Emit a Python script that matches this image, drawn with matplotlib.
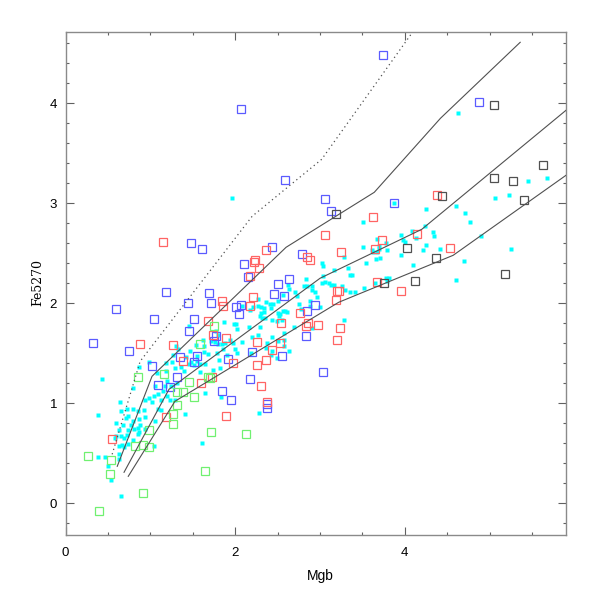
import matplotlib
matplotlib.use("Agg")
import matplotlib.pyplot as plt
import numpy as np
from matplotlib.ticker import MultipleLocator

# ---------------- data ----------------
cyan_x = [1.96, 3.51, 3.67, 3.51, 3.61, 3.63, 3.69, 3.70, 3.67, 3.78, 3.79, 3.71, 3.66, 3.54, 3.28,
          3.02, 3.04, 3.17, 3.33, 3.35, 3.38, 3.04, 2.84, 3.02, 3.06, 3.11, 3.13, 3.16, 3.26, 3.30,
          3.35, 3.41, 3.52, 2.90, 2.81, 2.85, 2.90, 2.94, 2.96, 2.71, 2.73, 2.64, 2.62, 2.56, 2.50,
          2.45, 2.41, 2.36, 2.42, 2.31, 2.27, 2.31, 2.34, 2.34, 2.29, 2.32, 2.35, 2.50, 2.52, 2.53,
          2.56, 2.59, 2.61, 2.55, 2.49, 2.43, 2.58, 2.69, 2.75, 2.78, 2.88, 2.88, 3.00, 2.90, 3.28,
          2.17, 2.08, 2.21, 2.27, 2.01, 1.99, 1.87, 2.02, 2.16, 2.29, 2.08, 2.27, 2.37, 2.43, 2.51,
          2.57, 2.58, 2.36, 1.76, 1.84, 1.63, 1.86, 1.98, 2.00, 1.94, 2.02, 2.64, 2.42, 2.49, 3.78,
          3.81, 3.65, 3.87, 2.20, 2.43, 2.19, 2.28,
          4.63, 5.45, 5.68, 5.06, 5.23, 4.25, 4.60, 4.71, 4.77, 4.24, 4.09, 3.96, 3.98, 4.00, 4.13,
          4.33, 4.34, 4.25, 4.22, 4.42, 4.90, 5.25, 3.96, 4.10, 4.70, 3.79, 4.60,
          1.45, 1.77, 1.80, 1.62, 1.71, 1.80, 1.88, 1.30, 1.33, 1.54, 1.47, 1.63, 1.55, 1.68, 1.79,
          1.27, 1.42, 1.48, 1.55, 1.59, 1.52, 1.45, 1.64, 1.81, 1.90, 0.98, 0.87, 1.19, 1.26, 1.36,
          1.29, 1.40, 1.19, 1.08, 1.59, 1.74, 1.82, 0.43, 0.79, 1.20, 1.31, 1.24, 1.17, 1.06, 1.15,
          1.09, 1.20, 1.23, 0.99, 1.04, 0.94, 1.02, 1.12, 1.29, 1.65, 1.83, 1.41, 0.64, 0.65, 0.80,
          0.73, 0.74, 0.86, 0.92, 1.09, 1.13, 0.94, 0.87, 0.79, 0.71, 0.68, 0.77, 0.88, 1.06, 0.81,
          0.74, 0.94, 0.59, 0.63, 0.72, 0.86, 0.60, 0.66, 0.69, 0.79, 1.04, 0.74, 0.67, 0.63, 1.61,
          0.38, 0.63, 0.63, 0.47, 0.38, 0.50, 0.54, 0.66, 0.58, 0.69, 0.86, 0.87]
cyan_y = [3.05, 2.81, 2.64, 2.56, 2.53, 2.51, 2.57, 2.54, 2.51, 2.60, 2.53, 2.45, 2.44, 2.40, 2.46,
          2.40, 2.37, 2.33, 2.35, 2.28, 2.28, 2.27, 2.24, 2.20, 2.21, 2.20, 2.18, 2.18, 2.17, 2.13,
          2.11, 2.11, 2.15, 2.17, 2.17, 2.17, 2.13, 2.11, 2.06, 2.11, 2.07, 2.14, 2.18, 2.08, 2.02,
          1.99, 1.99, 2.01, 1.95, 1.96, 2.04, 1.90, 1.91, 1.95, 1.87, 1.85, 1.85, 1.90, 1.87, 1.89,
          1.92, 1.92, 1.91, 1.83, 1.82, 1.83, 1.70, 1.76, 1.99, 1.94, 2.02, 1.97, 1.96, 1.75, 1.83,
          1.93, 1.97, 1.96, 1.97, 1.79, 1.79, 1.81, 1.74, 1.76, 1.76, 1.61, 1.68, 1.60, 1.66, 1.62,
          1.63, 1.57, 1.55, 1.61, 1.59, 1.57, 1.54, 1.60, 1.54, 1.63, 1.50, 1.52, 1.48, 1.45, 2.25,
          2.25, 2.20, 3.00, 1.66, 1.52, 1.50, 0.90,
          3.90, 3.22, 3.25, 3.05, 3.08, 2.94, 2.97, 2.90, 2.81, 2.77, 2.72, 2.68, 2.63, 2.61, 2.65,
          2.71, 2.67, 2.58, 2.53, 2.54, 2.67, 2.54, 2.48, 2.38, 2.42, 2.22, 2.23,
          1.77, 1.72, 1.68, 1.63, 1.62, 1.59, 1.60, 1.57, 1.54, 1.58, 1.52, 1.51, 1.47, 1.49, 1.50,
          1.48, 1.46, 1.41, 1.42, 1.39, 1.38, 1.39, 1.39, 1.43, 1.48, 1.41, 1.36, 1.40, 1.41, 1.36,
          1.35, 1.32, 1.32, 1.30, 1.31, 1.33, 1.35, 1.24, 1.15, 1.22, 1.20, 1.17, 1.17, 1.17, 1.12,
          1.09, 1.07, 1.03, 1.05, 1.07, 1.03, 1.01, 1.03, 1.03, 1.10, 1.06, 0.89, 1.01, 0.92, 0.94,
          0.94, 0.87, 0.92, 0.93, 0.94, 0.93, 0.86, 0.84, 0.82, 0.85, 0.78, 0.78, 0.78, 0.82, 0.74,
          0.73, 0.74, 0.80, 0.73, 0.68, 0.69, 0.67, 0.67, 0.65, 0.63, 0.57, 0.59, 0.58, 0.57, 0.60,
          0.88, 0.49, 0.44, 0.46, 0.46, 0.37, 0.23, 0.07, 0.65, 0.56, 0.75, 0.71]

blue_x = [3.74, 2.07, 2.59, 3.06, 3.13, 1.48, 1.61, 2.44, 2.10, 2.79, 2.15, 2.64, 1.18, 1.69, 1.44,
          1.72, 0.60, 1.04, 1.52, 1.45, 0.32, 0.75, 1.02, 1.35, 1.55, 1.52, 1.32, 1.09, 1.23, 1.85,
          1.95, 2.18, 2.20, 2.01, 2.07, 2.05, 1.78, 1.75, 1.92, 3.87, 2.50, 2.46, 2.58, 2.94, 2.85,
          2.84, 2.55, 4.87, 3.03, 2.38, 2.38]
blue_y = [4.48, 3.94, 3.23, 3.04, 2.92, 2.60, 2.54, 2.56, 2.39, 2.49, 2.26, 2.24, 2.11, 2.10, 2.00,
          2.00, 1.94, 1.84, 1.84, 1.72, 1.60, 1.52, 1.37, 1.46, 1.47, 1.41, 1.26, 1.18, 1.16, 1.12,
          1.03, 1.24, 1.51, 1.96, 1.98, 1.89, 1.67, 1.62, 1.44, 3.00, 2.19, 2.09, 2.07, 1.98, 1.92,
          1.67, 1.47, 4.01, 1.31, 0.99, 0.95]

red_x = [1.15, 3.62, 3.73, 3.65, 3.06, 3.25, 2.36, 2.23, 2.22, 2.28, 2.85, 2.88, 2.18, 0.88, 1.27,
         1.68, 1.85, 2.21, 2.18, 1.74, 1.89, 1.39, 1.73, 1.60, 1.97, 2.26, 2.26, 1.18, 1.89, 0.55,
         2.30, 1.86, 2.76, 2.98, 2.86, 2.84, 2.54, 3.20, 3.22, 3.19, 3.24, 3.20, 3.67, 3.96, 2.53,
         2.44, 2.36, 4.38, 4.14, 4.53, 2.38]
red_y = [2.61, 2.86, 2.63, 2.54, 2.68, 2.51, 2.53, 2.43, 2.41, 2.35, 2.46, 2.43, 2.27, 1.59, 1.58,
         1.82, 2.02, 2.06, 1.97, 1.68, 1.65, 1.42, 1.26, 1.20, 1.40, 1.61, 1.38, 0.86, 0.87, 0.64,
         1.17, 1.97, 1.90, 1.78, 1.80, 1.77, 1.80, 2.12, 2.12, 2.03, 1.75, 1.63, 2.21, 2.12, 1.60,
         1.53, 1.43, 3.08, 2.69, 2.55, 1.01]

green_x = [1.75, 1.59, 0.86, 1.16, 1.45, 1.68, 1.70, 1.32, 1.38, 1.51, 1.31, 1.27, 1.27, 0.99, 1.71,
           2.13, 0.82, 0.91, 0.99, 0.26, 0.54, 0.53, 1.65, 0.91, 0.40]
green_y = [1.77, 1.59, 1.26, 1.29, 1.21, 1.26, 1.25, 1.11, 1.11, 1.06, 0.98, 0.89, 0.79, 0.73, 0.71,
           0.69, 0.57, 0.58, 0.56, 0.47, 0.43, 0.29, 0.32, 0.10, -0.08]

black_x = [5.05, 5.63, 5.05, 5.27, 5.40, 4.44, 4.02, 4.37, 4.12, 3.76, 5.18, 3.19]
black_y = [3.98, 3.38, 3.25, 3.22, 3.03, 3.07, 2.55, 2.45, 2.22, 2.20, 2.29, 2.89]

line1_x = [0.61, 1.02, 2.60, 3.64, 4.42, 5.36]
line1_y = [0.37, 1.27, 2.56, 3.11, 3.85, 4.61]
line2_x = [0.69, 1.22, 3.00, 4.20, 5.90]
line2_y = [0.31, 1.14, 2.25, 2.74, 3.93]
line3_x = [0.74, 1.29, 3.22, 4.57, 5.90]
line3_y = [0.27, 1.02, 2.01, 2.48, 3.28]
dot_x = [0.55, 0.88, 2.20, 3.02, 4.09]
dot_y = [0.49, 1.42, 2.87, 3.44, 4.71]

x_ticks = [0, 2, 4]
y_ticks = [0, 1, 2, 3, 4]

# ---------------- figure ----------------
W = H = 598
fig = plt.figure(figsize=(W / 100, H / 100), dpi=100)
ax = fig.add_axes([65.5 / W, 1 - 535 / H, (566 - 65.5) / W, (535 - 32.3) / H])

ax.plot(cyan_x, cyan_y, linestyle='none', marker='s', ms=3.0, mfc='#00ffff', mec='none', zorder=2)

sq = dict(linestyle='none', marker='s', ms=6.0, mfc='none', mew=0.9, zorder=3)
ax.plot(blue_x, blue_y, mec='#5b5bff', **sq)
ax.plot(red_x, red_y, mec='#ff6464', **sq)
ax.plot(green_x, green_y, mec='#70f070', **sq)
ax.plot(black_x, black_y, mec='#505050', **sq)

lc = '#505050'
ax.plot(line1_x, line1_y, color=lc, lw=0.8, zorder=4)
ax.plot(line2_x, line2_y, color=lc, lw=0.8, zorder=4)
ax.plot(line3_x, line3_y, color=lc, lw=0.8, zorder=4)
ax.plot(dot_x, dot_y, color=lc, lw=0.9, linestyle=(0, (1, 2.6)), zorder=4)

ax.set_xlim(0, 5.9)
ax.set_ylim(-0.317, 4.71)

ax.set_xticks(x_ticks)
ax.set_yticks(y_ticks)
ax.xaxis.set_minor_locator(MultipleLocator(0.5))
ax.yaxis.set_minor_locator(MultipleLocator(0.2))
ax.tick_params(which='both', direction='in', top=True, right=True, color='#606060', width=0.8)
ax.tick_params(which='major', length=5.5)
ax.tick_params(which='minor', length=2.5)
ax.tick_params(axis='x', which='major', pad=9, labelsize=9.5)
ax.tick_params(axis='y', which='major', pad=6, labelsize=9.5)
for lab in ax.get_xticklabels() + ax.get_yticklabels():
    lab.set_family('Liberation Sans')
for s in ax.spines.values():
    s.set_color('#8a8a8a')
    s.set_linewidth(1.0)

fig.text(320 / W, 1 - 575.6 / H, 'Mgb', ha='center', va='center', fontsize=10,
         family='Liberation Sans')
fig.text(37.7 / W, 1 - 282 / H, 'Fe5270', ha='center', va='center', rotation=90,
         fontsize=9, family='DejaVu Serif')

fig.savefig('out.png', dpi=100)
